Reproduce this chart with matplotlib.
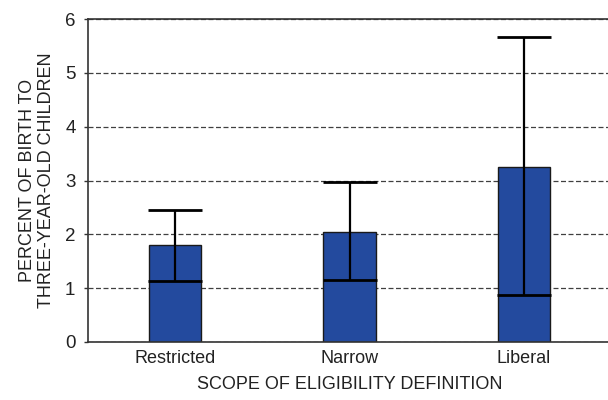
import numpy as np
import matplotlib
matplotlib.use('Agg')
import matplotlib.pyplot as plt

plt.rcParams['font.family'] = ['Liberation Sans', 'DejaVu Sans']

categories = ['Restricted', 'Narrow', 'Liberal']
estimate = [1.80, 2.04, 3.25]
low = [1.14, 1.16, 0.88]
high = [2.45, 2.97, 5.66]

x = np.arange(len(categories))
est = np.asarray(estimate)
yerr = np.vstack([est - np.asarray(low), np.asarray(high) - est])

fig = plt.figure(figsize=(6.08, 4.0), dpi=100)
# right edge runs past the figure, so the right spine is not seen
ax = fig.add_axes([88/608, 58/400, 523/608, 323/400])

ax.bar(x, est, width=0.3, color='#234a9e', edgecolor='#1a1a1a', linewidth=1.0, zorder=2)
ax.errorbar(x, est, yerr=yerr, fmt='none', ecolor='black', elinewidth=1.6,
            capsize=19.5, capthick=2.0, zorder=3)

ax.set_xlim(-0.5, 2.5)
ax.set_ylim(0, 6)
ax.set_yticks(range(0, 7))
ax.set_xticks(x)
ax.set_xticklabels(categories)
ax.yaxis.grid(True, linestyle=(0, (4, 2)), color='#404040', linewidth=0.9, zorder=0)
ax.set_axisbelow(True)

ax.tick_params(axis='x', length=0, pad=6, labelsize=13, labelcolor='#222222')
ax.tick_params(axis='y', length=3, width=1, pad=6, labelsize=13.5, labelcolor='#222222',
               color='#333333')
for side in ['left', 'bottom', 'top']:
    ax.spines[side].set_color('#333333')
    ax.spines[side].set_linewidth(1.2)

ax.set_xlabel('SCOPE OF ELIGIBILITY DEFINITION', fontsize=13, color='#222222', labelpad=6)
ax.set_ylabel('PERCENT OF BIRTH TO\nTHREE-YEAR-OLD CHILDREN', fontsize=13,
              color='#222222', labelpad=7, linespacing=1.2)

fig.savefig('out.png', dpi=100)
